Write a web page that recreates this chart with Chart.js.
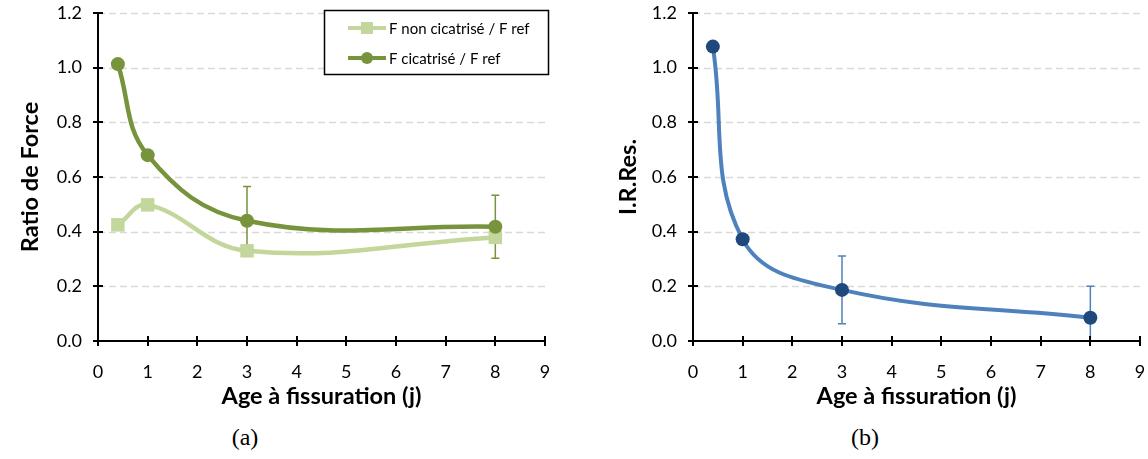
<!DOCTYPE html>
<html><head><meta charset="utf-8">
<script src="https://cdn.jsdelivr.net/npm/chart.js@4.4.1/dist/chart.umd.min.js"></script>
<style>
html,body{margin:0;padding:0;background:#fff;width:1148px;height:459px;overflow:hidden}
.wrap{position:absolute;top:0;width:574px;height:420px}
.cap{position:absolute;top:424px;font-family:"Liberation Serif","DejaVu Serif",serif;font-size:24px;color:#000;transform:translateX(-50%)}
</style></head><body>
<div class="wrap" style="left:0"><canvas id="a" width="574" height="420"></canvas></div>
<div class="wrap" style="left:574px"><canvas id="b" width="574" height="420"></canvas></div>
<div class="cap" style="left:245px">(a)</div>
<div class="cap" style="left:865px">(b)</div>
<script>
// ---- data ----
const ageFissuration = [0.4, 1, 3, 8];
const ratioNonCicatrise = [0.425, 0.498, 0.330, 0.379];
const ratioCicatrise = [1.013, 0.680, 0.440, 0.418];
const ratioCicatriseErr = [null, null, 0.125, 0.115];
const irres = [1.077, 0.372, 0.187, 0.085];
const irresErr = [null, null, 0.124, 0.115];
const xTickLabels = ['0','1','2','3','4','5','6','7','8','9'];
const yTickLabels = ['0.0','0.2','0.4','0.6','0.8','1.0','1.2'];
const seriesNames = ['F non cicatrisé / F ref', 'F cicatrisé / F ref'];
const yTitleA = 'Ratio de Force';
const yTitleB = 'I.R.Res.';
const xTitle = 'Age à fissuration (j)';

const FONT = 'Lato, "Open Sans", sans-serif';
const C_DARK = '#77933C', C_LIGHT = '#C3D69B', C_BLUE = '#4F81BD', C_NAVY = '#1F497D';

function pts(xs, ys){ return xs.map((x,i)=>({x:x, y:ys[i]})); }

const axesPlugin = {
  id: 'axesPlugin',
  beforeDatasetsDraw(chart){
    const ctx = chart.ctx, xs = chart.scales.x, ys = chart.scales.y, a = chart.chartArea;
    ctx.save();
    // dashed grid lines
    ctx.strokeStyle = '#D9D9D9'; ctx.lineWidth = 1.3; ctx.setLineDash([7,4]);
    yTickLabels.forEach((t)=>{
      const v = parseFloat(t); if (v === 0) return;
      const y = Math.round(ys.getPixelForValue(v)) + 0.5;
      ctx.beginPath(); ctx.moveTo(a.left, y); ctx.lineTo(a.right, y); ctx.stroke();
    });
    ctx.setLineDash([]);
    // error bars
    const eb = chart.options.plugins.axesPlugin.errorBars || [];
    eb.forEach(e=>{
      ctx.strokeStyle = e.color; ctx.lineWidth = 1.5;
      e.x.forEach((xv,i)=>{
        if (e.err[i] == null) return;
        const px = xs.getPixelForValue(xv);
        const y1 = ys.getPixelForValue(Math.max(0, e.y[i]-e.err[i]));
        const y2 = ys.getPixelForValue(e.y[i]+e.err[i]);
        ctx.beginPath(); ctx.moveTo(px,y1); ctx.lineTo(px,y2);
        ctx.moveTo(px-4,y2); ctx.lineTo(px+4,y2);
        if (e.y[i]-e.err[i] > 0){ ctx.moveTo(px-4,y1); ctx.lineTo(px+4,y1); }
        ctx.stroke();
      });
    });
    // axis lines and crossing ticks
    ctx.strokeStyle = '#000'; ctx.lineWidth = 2;
    ctx.beginPath();
    ctx.moveTo(a.left, a.top); ctx.lineTo(a.left, a.bottom + 1);
    ctx.moveTo(a.left - 1, a.bottom); ctx.lineTo(a.right + 1, a.bottom);
    xTickLabels.forEach(t=>{
      const px = Math.round(xs.getPixelForValue(parseFloat(t)));
      ctx.moveTo(px, a.bottom - 5); ctx.lineTo(px, a.bottom + 5);
    });
    yTickLabels.forEach(t=>{
      const py = Math.round(ys.getPixelForValue(parseFloat(t)));
      ctx.moveTo(a.left - 5, py); ctx.lineTo(a.left + 5, py);
    });
    ctx.stroke();
    ctx.restore();
  },
  afterDatasetsDraw(chart){
    const lg = chart.options.plugins.axesPlugin.legend;
    if (!lg) return;
    const ctx = chart.ctx;
    ctx.save();
    ctx.fillStyle = '#fff'; ctx.fillRect(324, 10, 225, 65);
    ctx.strokeStyle = '#000'; ctx.lineWidth = 1.5; ctx.strokeRect(324.5, 10.5, 224, 64);
    const rows = [{y:28, c:C_LIGHT, shape:'rect', name:seriesNames[0]}, {y:58, c:C_DARK, shape:'circle', name:seriesNames[1]}];
    rows.forEach(r=>{
      ctx.strokeStyle = r.c; ctx.lineWidth = 4; ctx.lineCap = 'butt';
      ctx.beginPath(); ctx.moveTo(348, r.y); ctx.lineTo(386, r.y); ctx.stroke();
      ctx.fillStyle = r.c;
      if (r.shape === 'rect') ctx.fillRect(361, r.y-6, 12, 12);
      else { ctx.beginPath(); ctx.arc(367, r.y, 6, 0, Math.PI*2); ctx.fill(); }
      ctx.fillStyle = '#000'; ctx.font = '15px ' + FONT; ctx.textBaseline = 'middle'; ctx.textAlign = 'left';
      ctx.fillText(r.name, 389, r.y + 1);
    });
    ctx.restore();
  }
};

function makeScales(yTitle, yWidth, yTitlePad){
  return {
    x: {
      type: 'linear', min: 0, max: 9,
      afterFit: s => { s.height = 79; s.paddingLeft = 0; s.paddingRight = 0; },
      grid: { display: false, drawTicks: false }, border: { display: false },
      ticks: { stepSize: 1, padding: 20, color: '#000', font: { family: FONT, size: 18 },
               callback: v => xTickLabels[v] ?? '' },
      title: { display: true, text: xTitle, color: '#000', padding: { top: 0, bottom: 9 },
               font: { family: FONT, size: 23.5, weight: 'bold' } }
    },
    y: {
      type: 'linear', min: 0, max: 1.2,
      afterFit: s => { s.width = yWidth; s.paddingTop = 0; s.paddingBottom = 0; },
      afterBuildTicks: s => { s.ticks = yTickLabels.map(t => ({ value: parseFloat(t) })); },
      grid: { display: false, drawTicks: false }, border: { display: false },
      ticks: { padding: 16, color: '#000', font: { family: FONT, size: 18 },
               callback: (v, i) => yTickLabels[i] },
      title: { display: true, text: yTitle, color: '#000', padding: { top: yTitlePad, bottom: 0 },
               font: { family: FONT, size: 23.5, weight: 'bold' } }
    }
  };
}

Chart.defaults.devicePixelRatio = 1;
Chart.defaults.animation = false;

new Chart(document.getElementById('a'), {
  type: 'line',
  data: { datasets: [
    { label: seriesNames[1], data: pts(ageFissuration, ratioCicatrise), order: 0,
      borderColor: C_DARK, backgroundColor: C_DARK, borderWidth: 4.5, tension: 0.4,
      pointStyle: 'circle', pointRadius: 7, pointBorderWidth: 0, pointBackgroundColor: C_DARK },
    { label: seriesNames[0], data: pts(ageFissuration, ratioNonCicatrise), order: 1,
      borderColor: C_LIGHT, backgroundColor: C_LIGHT, borderWidth: 4.5, tension: 0.4,
      pointStyle: 'rect', pointRadius: 9.5, pointBorderWidth: 0, pointBackgroundColor: C_LIGHT }
  ]},
  options: {
    responsive: false, maintainAspectRatio: false,
    layout: { padding: { top: 13, right: 29, left: 0, bottom: 0 } },
    plugins: { legend: { display: false }, tooltip: { enabled: false },
      axesPlugin: { legend: true, errorBars: [ { x: ageFissuration, y: ratioCicatrise, err: ratioCicatriseErr, color: C_DARK } ] } },
    scales: makeScales(yTitleA, 98, 16)
  },
  plugins: [axesPlugin]
});

new Chart(document.getElementById('b'), {
  type: 'line',
  data: { datasets: [
    { label: yTitleB, data: pts(ageFissuration, irres),
      borderColor: C_BLUE, backgroundColor: C_NAVY, borderWidth: 4, tension: 0.4,
      pointStyle: 'circle', pointRadius: 7, pointBorderWidth: 0, pointBackgroundColor: C_NAVY }
  ]},
  options: {
    responsive: false, maintainAspectRatio: false,
    layout: { padding: { top: 13, right: 8, left: 0, bottom: 0 } },
    plugins: { legend: { display: false }, tooltip: { enabled: false },
      axesPlugin: { legend: false, errorBars: [ { x: ageFissuration, y: irres, err: irresErr, color: C_BLUE } ] } },
    scales: makeScales(yTitleB, 119, 40)
  },
  plugins: [axesPlugin]
});
</script>
</body></html>
